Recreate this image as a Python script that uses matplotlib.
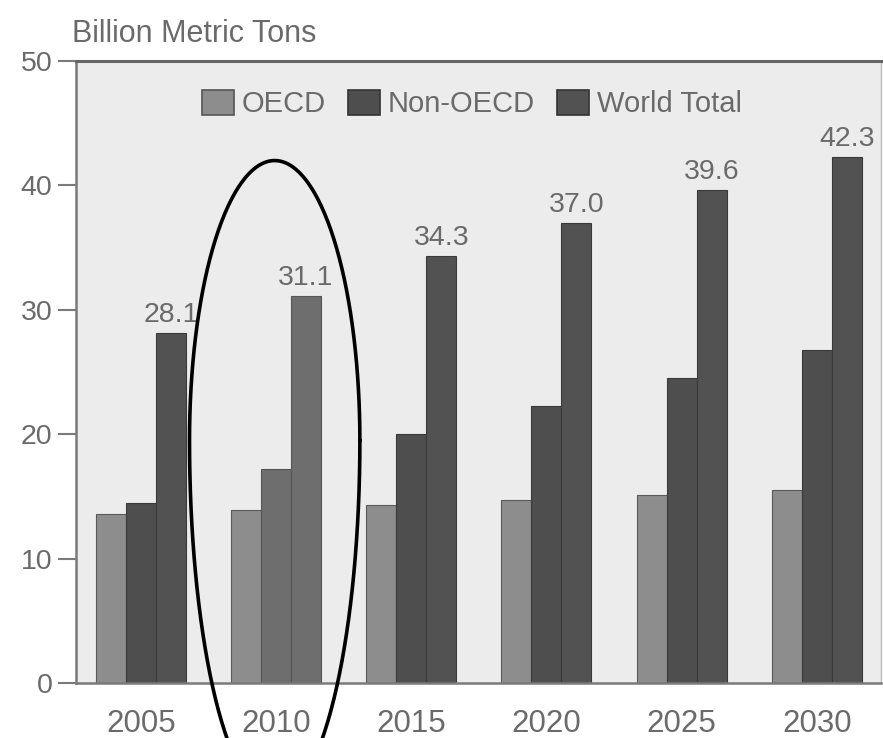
import matplotlib; matplotlib.use('Agg')
import matplotlib.pyplot as plt
import numpy as np
from matplotlib.patches import Patch

plt.rcParams['font.family'] = ['Liberation Sans', 'DejaVu Sans']

years = ['2005', '2010', '2015', '2020', '2025', '2030']
oecd = [13.6, 13.9, 14.3, 14.7, 15.1, 15.5]
non_oecd = [14.5, 17.2, 20.0, 22.3, 24.5, 26.8]
world = [28.1, 31.1, 34.3, 37.0, 39.6, 42.3]
series_names = ['OECD', 'Non-OECD', 'World Total']

TXT = '#6a6a6a'
C_OECD = '#8d8d8d'; C_NON = '#4e4e4e'; C_WORLD = '#525252'
C_HI = '#6e6e6e'   # 2010 group is drawn lighter

fig = plt.figure(figsize=(8.83, 7.38), dpi=100, facecolor='white')
ax = fig.add_axes([0.0860, 0.0745, 0.9117, 0.8428])
ax.set_facecolor('#ececec')

x = np.arange(len(years))
w = 0.222
b1 = ax.bar(x - w, oecd, w, color=C_OECD, edgecolor='#5a5a5a', lw=0.8)
b2 = ax.bar(x, non_oecd, w, color=C_NON, edgecolor='#3a3a3a', lw=0.8)
b3 = ax.bar(x + w, world, w, color=C_WORLD, edgecolor='#3a3a3a', lw=0.8)
b2[1].set_facecolor(C_HI); b3[1].set_facecolor(C_HI)
b2[1].set_edgecolor('#555555'); b3[1].set_edgecolor('#555555')

for xi, v in zip(x, world):
    ax.text(xi + w, v + 0.4, f'{v:.1f}', ha='center', va='bottom', size=20.5, color=TXT)

ax.set_xlim(-0.48, 5.474)
ax.set_ylim(0, 50)
ax.set_xticks(x)
ax.set_xticklabels(years)
ax.set_yticks(range(0, 51, 10))
ax.tick_params(axis='y', length=13, width=1.5, color='#7a7a7a', labelsize=20.5, labelcolor=TXT, pad=4)
ax.tick_params(axis='x', length=0, labelsize=22.5, labelcolor=TXT, pad=19)
for s in ['left', 'bottom']:
    ax.spines[s].set_color('#7a7a7a'); ax.spines[s].set_linewidth(1.8)
ax.spines['top'].set_color('#666666'); ax.spines['top'].set_linewidth(2.2)
ax.spines['right'].set_color('#bdbdbd'); ax.spines['right'].set_linewidth(1)

handles = [Patch(facecolor=C_OECD, edgecolor='#555555', lw=1.2),
           Patch(facecolor=C_NON, edgecolor='#333333', lw=1.2),
           Patch(facecolor=C_WORLD, edgecolor='#333333', lw=1.2)]
ax.legend(handles, series_names, loc='center', bbox_to_anchor=(0.492, 0.931), ncol=3,
          frameon=False, fontsize=21, labelcolor=TXT, handlelength=1.1, handleheight=0.95,
          handletextpad=0.27, columnspacing=0.75, borderaxespad=0)

fig.text(72/883, 1 - 34/738, 'Billion Metric Tons', size=22, color=TXT, ha='left', va='center')

# hand-drawn egg-shaped loop around the 2010 group (taller below than above)
t = np.linspace(0, 2 * np.pi, 401)
cx, cy, a, b_top, b_bot = 0.99, 19.5, 0.63, 22.5, 28.9
ex = cx + a * np.cos(t)
ey = cy + np.where(np.sin(t) > 0, b_top, b_bot) * np.sin(t)
ax.plot(ex, ey, color='black', lw=2.6, clip_on=False, zorder=5,
        solid_capstyle='round', solid_joinstyle='round')

plt.savefig('out.png', dpi=100, facecolor='white')
